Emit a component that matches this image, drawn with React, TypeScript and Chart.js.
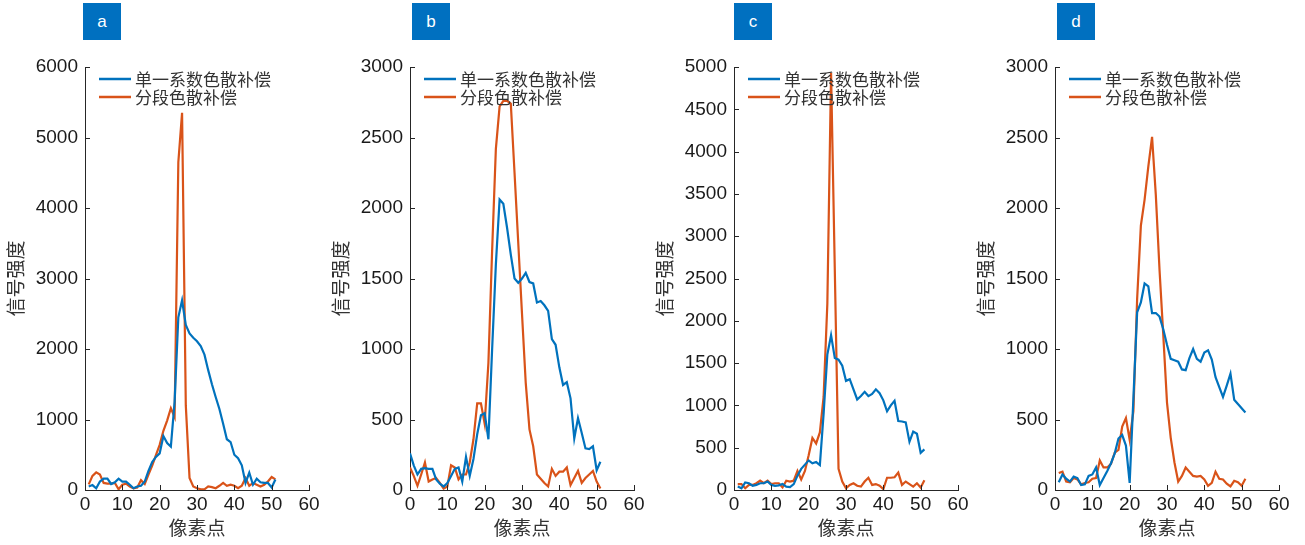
import React, { useEffect, useRef } from 'react';
import { Chart, registerables } from 'chart.js';

Chart.register(...registerables);

// ---------- data ----------
const PIXELS_FROM_0 = [0, 1, 2, 3, 4, 5, 6, 7, 8, 9, 10, 11, 12, 13, 14, 15, 16, 17, 18, 19, 20, 21, 22, 23, 24, 25, 26, 27, 28, 29, 30, 31, 32, 33, 34, 35, 36, 37, 38, 39, 40, 41, 42, 43, 44, 45, 46, 47, 48, 49, 50, 51];
const PIXELS_FROM_1 = [1, 2, 3, 4, 5, 6, 7, 8, 9, 10, 11, 12, 13, 14, 15, 16, 17, 18, 19, 20, 21, 22, 23, 24, 25, 26, 27, 28, 29, 30, 31, 32, 33, 34, 35, 36, 37, 38, 39, 40, 41, 42, 43, 44, 45, 46, 47, 48, 49, 50, 51];

const A_SINGLE = [50, 70, 25, 120, 160, 160, 85, 110, 160, 120, 120, 75, 25, 50, 60, 120, 270, 395, 470, 520, 765, 665, 615, 1250, 2450, 2690, 2340, 2220, 2160, 2110, 2040, 1920, 1700, 1500, 1320, 1150, 940, 720, 680, 500, 450, 350, 100, 245, 75, 160, 110, 100, 100, 35, 150];
const A_SEGMENT = [80, 200, 250, 220, 100, 90, 90, 100, 10, 75, 90, 50, 25, 35, 140, 85, 220, 345, 495, 640, 840, 985, 1160, 1035, 4650, 5350, 1200, 170, 50, 25, 10, 10, 50, 40, 25, 60, 100, 60, 75, 60, 25, 60, 170, 60, 100, 75, 50, 75, 120, 185, 150];

const B_SINGLE = [260, 175, 110, 150, 155, 150, 150, 75, 45, 25, 50, 100, 150, 160, 60, 235, 100, 220, 395, 530, 545, 360, 1000, 1600, 2060, 2030, 1860, 1670, 1500, 1470, 1500, 1540, 1475, 1465, 1330, 1340, 1310, 1270, 1070, 1030, 870, 745, 765, 650, 365, 510, 405, 295, 290, 310, 140, 200];
const B_SEGMENT = [160, 100, 30, 110, 195, 60, 75, 85, 50, 10, 25, 175, 160, 75, 110, 110, 195, 360, 615, 615, 470, 900, 1700, 2420, 2720, 2760, 2760, 2740, 2250, 1750, 1250, 760, 430, 310, 110, 80, 50, 25, 150, 100, 130, 130, 160, 35, 85, 135, 50, 85, 110, 135, 60, 10];

const C_SINGLE = [40, 20, 90, 80, 50, 60, 80, 80, 100, 60, 50, 55, 70, 40, 35, 70, 170, 250, 300, 350, 315, 330, 295, 900, 1600, 1830, 1560, 1540, 1470, 1290, 1310, 1190, 1070, 1110, 1160, 1110, 1135, 1190, 1145, 1060, 930, 1000, 1055, 815, 810, 800, 570, 690, 665, 440, 480];
const C_SEGMENT = [70, 70, 20, 60, 60, 80, 110, 80, 110, 70, 80, 80, 30, 110, 100, 110, 225, 125, 225, 410, 615, 550, 680, 1100, 2200, 4930, 2600, 250, 100, 20, 60, 80, 50, 40, 100, 145, 60, 70, 50, 10, 145, 145, 150, 205, 60, 100, 70, 40, 80, 30, 115];

const D_SINGLE = [55, 110, 80, 60, 95, 85, 35, 40, 100, 110, 160, 35, 85, 135, 190, 260, 365, 390, 315, 50, 650, 1260, 1330, 1465, 1445, 1255, 1255, 1230, 1140, 1030, 930, 920, 910, 855, 850, 935, 1000, 930, 910, 975, 990, 925, 800, 730, 660, 740, 825, 640, 610, 580, 550];
const D_SEGMENT = [120, 130, 60, 55, 85, 75, 40, 50, 55, 80, 85, 210, 160, 160, 185, 265, 285, 450, 510, 355, 560, 1355, 1875, 2060, 2295, 2505, 2095, 1560, 1100, 620, 370, 195, 60, 100, 160, 130, 100, 95, 100, 75, 30, 50, 130, 80, 75, 45, 25, 65, 55, 30, 80];

const SERIES_NAMES = ['单一系数色散补偿', '分段色散补偿'];
const PANEL_LABELS = ['a', 'b', 'c', 'd'];
const Y_MAX = [6000, 3000, 5000, 3000];
const Y_STEP = [1000, 500, 500, 500];
const X_TITLE = '像素点';
const Y_TITLE = '信号强度';

// ---------- styles ----------
const BLUE = '#0072BD';
const ORANGE = '#D95319';
const AXIS_COLOR = '#262626';
const TEXT_COLOR = '#1a1a1a';
const TITLE_COLOR = '#333333';
const CANVAS_W = 330;
const CANVAS_H = 545;
const Y_AXIS_W = 88;
const PLOT_W = 224;
const PLOT_TOP = 67;
const X_AXIS_H = 55;
const AXIS_LEFT = [85, 410, 734, 1055];
const LABEL_BOX_LEFT = [83, 412, 734, 1057];

const inwardTicks = {
  id: 'inwardTicks',
  afterDraw(chart: any) {
    const { ctx, chartArea, scales } = chart;
    const len = 5;
    ctx.save();
    ctx.strokeStyle = AXIS_COLOR;
    ctx.lineWidth = 1;
    scales.x.ticks.forEach((t: any) => {
      const px = Math.round(scales.x.getPixelForValue(t.value)) + 0.5;
      ctx.beginPath();
      ctx.moveTo(px, chartArea.bottom);
      ctx.lineTo(px, chartArea.bottom - len);
      ctx.stroke();
    });
    scales.y.ticks.forEach((t: any) => {
      const py = Math.round(scales.y.getPixelForValue(t.value)) + 0.5;
      ctx.beginPath();
      ctx.moveTo(chartArea.left, py);
      ctx.lineTo(chartArea.left + len, py);
      ctx.stroke();
    });
    ctx.restore();
  },
};

// Legend drawn inside the plot area (top-left), like the reference.
const innerLegend = {
  id: 'innerLegend',
  afterDatasetsDraw(chart: any) {
    const { ctx, chartArea } = chart;
    ctx.save();
    ctx.font = '17px "Noto Sans CJK SC", sans-serif';
    ctx.textBaseline = 'middle';
    ctx.textAlign = 'left';
    chart.data.datasets.forEach((ds: any, i: number) => {
      const y = chartArea.top + 12 + i * 18;
      ctx.strokeStyle = ds.borderColor;
      ctx.lineWidth = 2.5;
      ctx.beginPath();
      ctx.moveTo(chartArea.left + 14, y);
      ctx.lineTo(chartArea.left + 46, y);
      ctx.stroke();
      ctx.fillStyle = TITLE_COLOR;
      ctx.fillText(ds.label, chartArea.left + 50, y + 1);
    });
    ctx.restore();
  },
};

type PanelProps = {
  xs: number[];
  single: number[];
  segment: number[];
  yMax: number;
  yStep: number;
  left: number;
};

function Panel({ xs, single, segment, yMax, yStep, left }: PanelProps) {
  const ref = useRef<HTMLCanvasElement | null>(null);
  useEffect(() => {
    if (!ref.current) return;
    const tickFont = { family: '"Liberation Sans", Arial, sans-serif', size: 19 };
    const cjkFont = { family: '"Noto Sans CJK SC", "Noto Sans", sans-serif', size: 19 };
    const chart = new Chart(ref.current, {
      type: 'line',
      data: {
        datasets: [
          {
            label: SERIES_NAMES[0],
            data: xs.map((x, i) => ({ x, y: single[i] })),
            borderColor: BLUE,
            backgroundColor: BLUE,
            borderWidth: 2.2,
            pointRadius: 0,
            tension: 0,
          },
          {
            label: SERIES_NAMES[1],
            data: xs.map((x, i) => ({ x, y: segment[i] })),
            borderColor: ORANGE,
            backgroundColor: ORANGE,
            borderWidth: 2.2,
            pointRadius: 0,
            tension: 0,
          },
        ],
      },
      options: {
        animation: false,
        responsive: false,
        maintainAspectRatio: false,
        layout: { padding: { left: 0, right: CANVAS_W - Y_AXIS_W - PLOT_W, top: PLOT_TOP, bottom: 0 } },
        plugins: {
          legend: { display: false },
          tooltip: { enabled: false },
        },
        scales: {
          x: {
            type: 'linear',
            min: 0,
            max: 60,
            ticks: {
              stepSize: 10,
              autoSkip: false,
              maxRotation: 0,
              padding: 3,
              color: TEXT_COLOR,
              font: tickFont,
              callback: (v: any) => String(v),
            },
            grid: { drawOnChartArea: false, drawTicks: false },
            border: { display: true, color: AXIS_COLOR, width: 1 },
            title: { display: true, text: X_TITLE, color: TITLE_COLOR, font: cjkFont, padding: { top: 0, bottom: 6 } },
            afterFit: (s: any) => {
              s.height = X_AXIS_H;
            },
          },
          y: {
            type: 'linear',
            min: 0,
            max: yMax,
            ticks: {
              stepSize: yStep,
              padding: 7,
              color: TEXT_COLOR,
              font: tickFont,
              callback: (v: any) => String(v),
            },
            grid: { drawOnChartArea: false, drawTicks: false },
            border: { display: true, color: AXIS_COLOR, width: 1 },
            title: { display: true, text: Y_TITLE, color: TITLE_COLOR, font: cjkFont, padding: { top: 7, bottom: 0 } },
            afterFit: (s: any) => {
              s.width = Y_AXIS_W;
            },
          },
        },
      } as any,
      plugins: [inwardTicks, innerLegend],
    });
    return () => chart.destroy();
  }, []);
  return (
    <canvas
      ref={ref}
      width={CANVAS_W}
      height={CANVAS_H}
      style={{ position: 'absolute', left: left - Y_AXIS_W, top: 0, width: CANVAS_W, height: CANVAS_H }}
    />
  );
}

export default function App() {
  const panels = [
    { xs: PIXELS_FROM_1, single: A_SINGLE, segment: A_SEGMENT },
    { xs: PIXELS_FROM_0, single: B_SINGLE, segment: B_SEGMENT },
    { xs: PIXELS_FROM_1, single: C_SINGLE, segment: C_SEGMENT },
    { xs: PIXELS_FROM_1, single: D_SINGLE, segment: D_SEGMENT },
  ];
  return (
    <div style={{ position: 'fixed', left: 0, top: 0, width: 1305, height: 545, background: '#ffffff', overflow: 'hidden' }}>
      {panels.map((p, i) => (
        <Panel key={i} xs={p.xs} single={p.single} segment={p.segment} yMax={Y_MAX[i]} yStep={Y_STEP[i]} left={AXIS_LEFT[i]} />
      ))}
      {PANEL_LABELS.map((lab, i) => (
        <div
          key={lab}
          style={{
            position: 'absolute',
            left: LABEL_BOX_LEFT[i],
            top: 3,
            width: 38,
            height: 37,
            background: '#0070C0',
            color: '#ffffff',
            fontFamily: '"Liberation Sans", Arial, sans-serif',
            fontSize: 17,
            lineHeight: '37px',
            textAlign: 'center',
          }}
        >
          {lab}
        </div>
      ))}
    </div>
  );
}
